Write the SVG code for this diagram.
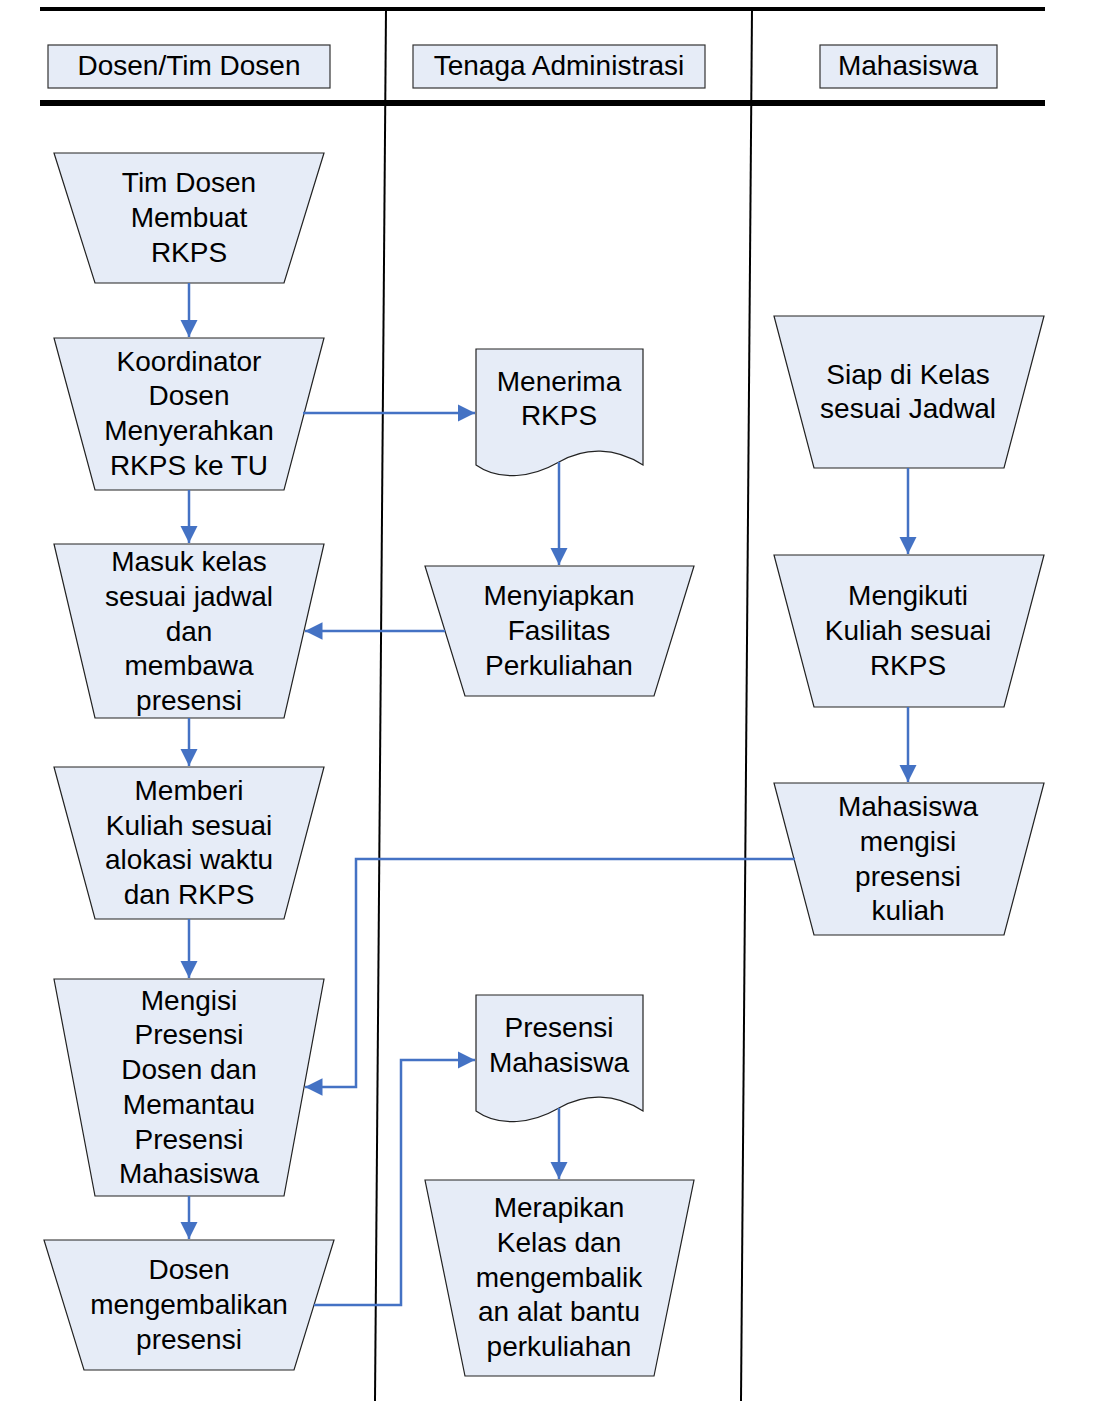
<svg xmlns="http://www.w3.org/2000/svg" width="1094" height="1401" viewBox="0 0 1094 1401">
<style>
.shape{fill:#E6ECF7;stroke:#222;stroke-width:1.2}
.hdr{fill:#E6ECF7;stroke:#333;stroke-width:1.2}
text{font-family:"Liberation Sans",Arial,sans-serif;font-size:28px;fill:#000;text-anchor:middle}
.conn{fill:none;stroke:#4472C4;stroke-width:2.5;marker-end:url(#ah)}
.lane{stroke:#000;fill:none}
</style>
<defs>
<marker id="ah" viewBox="0 0 10 10" refX="10" refY="5" markerWidth="7" markerHeight="7" markerUnits="strokeWidth" orient="auto">
<path d="M0,0 L10,5 L0,10 Z" fill="#4472C4"/>
</marker>
</defs>
<rect width="1094" height="1401" fill="#fff"/>
<g id="lanes">
<line class="lane" x1="40" y1="9" x2="1045" y2="9" stroke-width="4"/>
<line class="lane" x1="40" y1="103" x2="1045" y2="103" stroke-width="6"/>
<line class="lane" x1="386" y1="9" x2="375" y2="1401" stroke-width="2"/>
<line class="lane" x1="752" y1="9" x2="741" y2="1401" stroke-width="2"/>
</g>
<g id="hdr1"><rect class="hdr" x="48" y="45" width="282" height="43"/><text x="189" y="75">Dosen/Tim Dosen</text></g>
<g id="hdr2"><rect class="hdr" x="413" y="45" width="292" height="43"/><text x="559" y="75">Tenaga Administrasi</text></g>
<g id="hdr3"><rect class="hdr" x="820" y="45" width="177" height="43"/><text x="908" y="75">Mahasiswa</text></g>

<g id="n1"><polygon class="shape" points="54,153 324,153 284,283 95,283"/>
<text x="189" y="192">Tim Dosen</text><text x="189" y="227">Membuat</text><text x="189" y="262">RKPS</text></g>
<g id="n2"><polygon class="shape" points="54,338 324,338 284,490 95,490"/>
<text x="189" y="371">Koordinator</text><text x="189" y="405">Dosen</text><text x="189" y="440">Menyerahkan</text><text x="189" y="475">RKPS ke TU</text></g>
<g id="n3"><polygon class="shape" points="54,544 324,544 284,718 95,718"/>
<text x="189" y="571">Masuk kelas</text><text x="189" y="606">sesuai jadwal</text><text x="189" y="641">dan</text><text x="189" y="675">membawa</text><text x="189" y="710">presensi</text></g>
<g id="n4"><polygon class="shape" points="54,767 324,767 284,919 95,919"/>
<text x="189" y="800">Memberi</text><text x="189" y="835">Kuliah sesuai</text><text x="189" y="869">alokasi waktu</text><text x="189" y="904">dan RKPS</text></g>
<g id="n5"><polygon class="shape" points="54,979 324,979 284,1196 95,1196"/>
<text x="189" y="1010">Mengisi</text><text x="189" y="1044">Presensi</text><text x="189" y="1079">Dosen dan</text><text x="189" y="1114">Memantau</text><text x="189" y="1149">Presensi</text><text x="189" y="1183">Mahasiswa</text></g>
<g id="n6"><polygon class="shape" points="44,1240 334,1240 294,1370 84,1370"/>
<text x="189" y="1279">Dosen</text><text x="189" y="1314">mengembalikan</text><text x="189" y="1349">presensi</text></g>

<g id="m1"><path class="shape" d="M476,349 H643 V465 C615,447 585,447 559,462 C533,477 500,482 476,465 Z"/>
<text x="559" y="391">Menerima</text><text x="559" y="425">RKPS</text></g>
<g id="m2"><polygon class="shape" points="425,566 694,566 654,696 465,696"/>
<text x="559" y="605">Menyiapkan</text><text x="559" y="640">Fasilitas</text><text x="559" y="675">Perkuliahan</text></g>
<g id="m3"><path class="shape" d="M476,995 H643 V1111 C615,1093 585,1093 559,1108 C533,1123 500,1128 476,1111 Z"/>
<text x="559" y="1037">Presensi</text><text x="559" y="1072">Mahasiswa</text></g>
<g id="m4"><polygon class="shape" points="425,1180 694,1180 654,1376 465,1376"/>
<text x="559" y="1217">Merapikan</text><text x="559" y="1252">Kelas dan</text><text x="559" y="1287">mengembalik</text><text x="559" y="1321">an alat bantu</text><text x="559" y="1356">perkuliahan</text></g>

<g id="r1"><polygon class="shape" points="774,316 1044,316 1004,468 814,468"/>
<text x="908" y="384">Siap di Kelas</text><text x="908" y="418">sesuai Jadwal</text></g>
<g id="r2"><polygon class="shape" points="774,555 1044,555 1004,707 814,707"/>
<text x="908" y="605">Mengikuti</text><text x="908" y="640">Kuliah sesuai</text><text x="908" y="675">RKPS</text></g>
<g id="r3"><polygon class="shape" points="774,783 1044,783 1004,935 814,935"/>
<text x="908" y="816">Mahasiswa</text><text x="908" y="851">mengisi</text><text x="908" y="886">presensi</text><text x="908" y="920">kuliah</text></g>

<g id="connectors">
<path class="conn" d="M189,283 V337"/>
<path class="conn" d="M303,413 H475"/>
<path class="conn" d="M189,490 V543"/>
<path class="conn" d="M559,462 V565"/>
<path class="conn" d="M445,631 H305"/>
<path class="conn" d="M189,718 V766"/>
<path class="conn" d="M189,919 V978"/>
<path class="conn" d="M795,859 H356 V1087 H305"/>
<path class="conn" d="M189,1196 V1239"/>
<path class="conn" d="M314,1305 H401 V1060 H475"/>
<path class="conn" d="M559,1108 V1179"/>
<path class="conn" d="M908,468 V554"/>
<path class="conn" d="M908,707 V782"/>
</g>
</svg>
